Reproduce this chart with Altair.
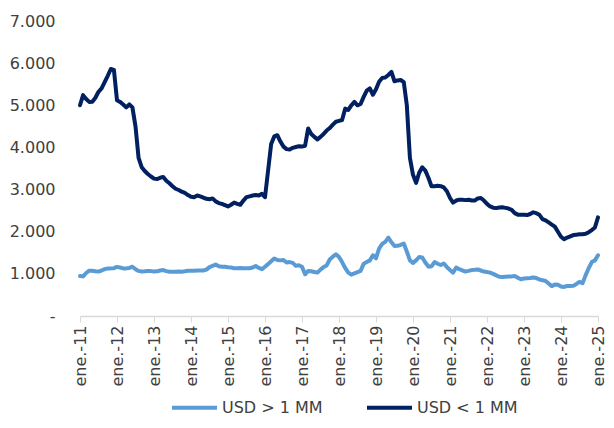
import altair as alt
import pandas as pd

# monthly series, ene.-2011 .. ene.-2025
usd_small = [
    5000, 5240, 5150, 5080, 5085, 5180, 5320, 5400, 5550, 5700, 5860, 5840,
    5120, 5080, 5020, 4950, 5020, 4950, 4500, 3750, 3530, 3440, 3370, 3310,
    3260, 3250, 3280, 3300, 3210, 3150, 3080, 3020, 2990, 2950, 2920, 2870,
    2830, 2820, 2860, 2840, 2810, 2780, 2770, 2790, 2720, 2680, 2660, 2630,
    2600, 2640, 2690, 2660, 2640, 2740, 2820, 2840, 2860, 2870, 2860, 2900,
    2820, 3450, 4080, 4260, 4290, 4140, 4020, 3960, 3950, 3990, 4010, 4030,
    4020, 4040, 4450, 4320, 4250, 4190, 4250, 4320, 4400, 4460, 4540, 4610,
    4630, 4650, 4920, 4890, 5000, 5080, 5000, 5030, 5200, 5350, 5400, 5250,
    5380, 5560, 5650, 5660, 5720, 5790, 5570, 5590, 5600, 5550, 5000, 3750,
    3350, 3160, 3400, 3530, 3450, 3280, 3080, 3080, 3090, 3080, 3050, 2960,
    2800, 2690, 2740, 2760, 2760, 2750, 2760, 2740, 2740, 2790, 2800, 2740,
    2660, 2600, 2570, 2560, 2575, 2580, 2565, 2550, 2520, 2440, 2405, 2400,
    2400, 2395, 2420, 2460, 2440, 2400, 2300, 2270, 2220, 2170, 2120, 2000,
    1880, 1820, 1860, 1890, 1920, 1930, 1940, 1940, 1950, 1990, 2040, 2100,
    2340,
]
usd_large = [
    950, 940, 1020, 1075, 1075, 1060, 1055, 1080, 1110, 1130, 1130, 1135,
    1165, 1150, 1130, 1130, 1140, 1170, 1110, 1070, 1055, 1060, 1070, 1065,
    1055, 1060, 1080, 1090, 1065, 1050, 1050, 1050, 1055, 1050, 1060, 1075,
    1075, 1075, 1080, 1080, 1080, 1100, 1160, 1190, 1220, 1180, 1170, 1170,
    1155, 1150, 1135, 1135, 1140, 1135, 1135, 1135, 1150, 1185, 1140, 1110,
    1170, 1230, 1300, 1365, 1330, 1320, 1330, 1270, 1280, 1260, 1190, 1205,
    1170, 990, 1070, 1060, 1045, 1030, 1100, 1160, 1200, 1340, 1410, 1465,
    1400, 1280, 1140, 1030, 980, 1010, 1040, 1070, 1240, 1280, 1320, 1440,
    1370, 1600, 1710, 1760, 1860, 1750, 1660, 1665, 1690, 1720, 1530, 1320,
    1260, 1320, 1400, 1390, 1270, 1170, 1180, 1280, 1240, 1210, 1245, 1160,
    1090, 1030, 1150, 1110, 1085, 1055, 1070, 1090, 1095, 1105, 1080, 1055,
    1045, 1030, 1000, 965, 930, 925, 930, 935, 940, 950, 910, 870,
    890, 895, 900, 915, 900, 865, 850, 830, 770, 710, 745, 740,
    700, 690, 712, 712, 715, 760, 810, 780, 970, 1140, 1280, 1320,
    1440,
]
series_names = ["USD > 1 MM", "USD < 1 MM"]
series_colors = ["#5B9BD5", "#002060"]
y_ticks = [0, 1000, 2000, 3000, 4000, 5000, 6000, 7000]
x_ticks = list(range(0, 169, 12))  # each enero

months = list(range(len(usd_small)))
df = pd.concat([
    pd.DataFrame({"m": months, "v": usd_large, "s": series_names[0]}),
    pd.DataFrame({"m": months, "v": usd_small, "s": series_names[1]}),
])

FONT = "DejaVu Sans"
TXT = "#404040"

chart = alt.Chart(df).mark_line(strokeWidth=4, strokeJoin="round", strokeCap="round").encode(
    x=alt.X("m:Q", scale=alt.Scale(domain=[0, 168], nice=False, zero=False),
            axis=alt.Axis(values=x_ticks, title=None, grid=False,
                          labelExpr="'ene.-' + (11 + datum.value / 12)",
                          labelAngle=270, labelFont=FONT, labelFontSize=16,
                          labelColor=TXT, labelPadding=3, tickSize=6,
                          tickColor="#d9d9d9", domainColor="#d9d9d9",
                          domainWidth=1.5, labelOverlap=False, labelFlush=False)),
    y=alt.Y("v:Q", scale=alt.Scale(domain=[0, 7000], nice=False),
            axis=alt.Axis(values=y_ticks, title=None, grid=False, domain=False,
                          ticks=False, labelPadding=25, labelFont=FONT,
                          labelFontSize=16, labelColor=TXT,
                          labelExpr="datum.value == 0 ? '-\u00a0\u00a0' : replace(format(datum.value, ',.0f'), ',', '.')")),
    color=alt.Color("s:N", scale=alt.Scale(domain=series_names, range=series_colors),
                    sort=series_names,
                    legend=alt.Legend(title=None, orient="none", legendX=90, legendY=362,
                                      direction="horizontal", symbolType="stroke",
                                      symbolSize=2025, symbolStrokeWidth=4,
                                      labelOffset=3, columnPadding=36,
                                      labelFont=FONT, labelFontSize=16, labelColor=TXT)),
).properties(
    width=518, height=295,
    autosize=alt.AutoSizeParams(type="none"),
    padding={"left": 72, "top": 13, "right": 8, "bottom": 100},
).configure_view(strokeWidth=0)

chart.save("out.html", embed_options={"renderer": "svg", "actions": False})
